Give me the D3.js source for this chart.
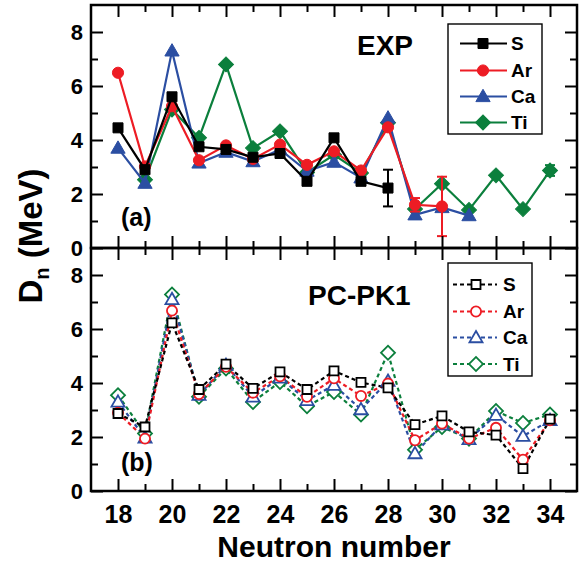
<!DOCTYPE html>
<html><head><meta charset="utf-8">
<script src="https://cdn.jsdelivr.net/npm/d3@7"></script>
<style>
html,body{margin:0;padding:0;background:#fff;}
svg{display:block;font-family:"Liberation Sans",Arial,sans-serif;font-weight:bold;}
</style></head>
<body>
<svg id="chart" width="584" height="567"></svg>
<script>
// ---- data ----
const neutrons = [18,19,20,21,22,23,24,25,26,27,28,29,30,31,32,33,34];
const xTickLabels = [18,20,22,24,26,28,30,32,34];
const yTickLabels = [0,2,4,6,8];
const seriesNames = ["S","Ar","Ca","Ti"];
const seriesColors = ["#000000","#ed1c24","#2b4ea2","#0b7f3c"];

// EXP panel (a)
const expS_N  = [18,19,20,21,22,23,24,25,26,27,28];
const expS    = [4.45,2.9,5.6,3.75,3.65,3.36,3.5,2.47,4.08,2.47,2.22];
const expAr_N = [18,19,20,21,22,23,24,25,26,27,28,29,30];
const expAr   = [6.49,3.02,5.25,3.25,3.8,3.3,3.83,3.08,3.58,2.87,4.47,1.6,1.54];
const expCa_N = [18,19,20,21,22,23,24,25,26,27,28,29,30,31];
const expCa   = [3.7,2.4,7.3,3.15,3.55,3.2,3.65,2.85,3.18,2.6,4.82,1.23,1.5,1.2];
const expTi_N = [19,20,21,22,23,24,25,26,27,28,29,30,31,32,33,34];
const expTi   = [2.53,5.13,4.08,6.8,3.7,4.32,2.8,3.45,2.78,4.64,1.44,2.38,1.41,2.69,1.44,2.87];
// error bars: [series, N, value, error]
const expErrors = [["S",28,2.22,0.68],["Ar",29,1.6,0.25],["Ar",30,1.54,1.1],["Ti",34,2.87,0.2]];

// PC-PK1 panel (b)
const pcS  = [2.87,2.37,6.23,3.76,4.7,3.8,4.41,3.76,4.45,4.02,3.82,2.46,2.78,2.19,2.07,0.83,2.66];
const pcAr = [2.9,1.94,6.68,3.59,4.6,3.64,4.25,3.49,4.17,3.52,3.98,1.88,2.5,1.94,2.34,1.16,2.62];
const pcCa = [3.3,1.97,7.1,3.55,4.66,3.49,4.19,3.36,3.92,3.02,4.07,1.39,2.46,1.91,2.81,2.03,2.62];
const pcTi = [3.55,2.13,7.28,3.49,4.54,3.3,4.04,3.14,3.67,2.83,5.12,1.53,2.37,1.94,2.96,2.52,2.83];

// ---- layout ----
const svg = d3.select("#chart");
const L = 91, R = 577;
const x = d3.scaleLinear().domain([17,35]).range([L,R]);
const yA = d3.scaleLinear().domain([0,9]).range([248,5]);
const yB = d3.scaleLinear().domain([0,9]).range([491,248]);

const xMajor = d3.range(18,35,2), xMinor = d3.range(19,35,2);
const yMajor = [0,2,4,6,8], yMinor = [1,3,5,7];

function symPath(kind, filled){
  if(kind==="S") return d3.symbol(d3.symbolSquare, filled?100:81)();
  if(kind==="Ar") return d3.symbol(d3.symbolCircle, filled?98:80)();
  if(kind==="Ca") return d3.symbol(d3.symbolTriangle, filled?88:74)();
  return d3.symbol(d3.symbolSquare, filled?112:98)();
}
function symTransform(kind, px, py){
  return `translate(${px},${py})` + (kind==="Ti" ? " rotate(45)" : "") + (kind==="Ca" ? " translate(0,1)" : "");
}

function axes(y, showX){
  const g = svg.append("g");
  const ax = (gen, tr) => {
    const a = g.append("g").attr("transform", tr).call(gen);
    a.select(".domain").remove();
    a.selectAll(".tick line").attr("stroke","#000").attr("stroke-width",2);
    a.selectAll("text").remove();
    return a;
  };
  const top = y.range()[1], bot = y.range()[0];
  ax(d3.axisBottom(x).tickValues(xMajor).tickSize(-12), `translate(0,${bot})`);
  ax(d3.axisBottom(x).tickValues(xMinor).tickSize(-7), `translate(0,${bot})`);
  ax(d3.axisTop(x).tickValues(xMajor).tickSize(-12), `translate(0,${top})`);
  ax(d3.axisTop(x).tickValues(xMinor).tickSize(-7), `translate(0,${top})`);
  ax(d3.axisLeft(y).tickValues(yMajor).tickSize(-12), `translate(${L},0)`);
  ax(d3.axisLeft(y).tickValues(yMinor).tickSize(-7), `translate(${L},0)`);
  ax(d3.axisRight(y).tickValues(yMajor).tickSize(-12), `translate(${R},0)`);
  ax(d3.axisRight(y).tickValues(yMinor).tickSize(-7), `translate(${R},0)`);
  // y tick labels
  const yl = g.append("g").attr("transform",`translate(${L},0)`)
    .call(d3.axisLeft(y).tickValues(yTickLabels).tickSize(0).tickPadding(8));
  yl.select(".domain").remove();
  yl.selectAll("text").attr("font-size",22).attr("font-weight","bold")
    .attr("font-family",'"Liberation Sans",Arial,sans-serif').attr("fill","#000");
  if(showX){
    const xl = g.append("g").attr("transform",`translate(0,${bot})`)
      .call(d3.axisBottom(x).tickValues(xTickLabels).tickSize(0).tickPadding(14));
    xl.select(".domain").remove();
    xl.selectAll("text").attr("font-size",25).attr("font-weight","bold")
      .attr("font-family",'"Liberation Sans",Arial,sans-serif').attr("fill","#000");
  }
  svg.append("rect").attr("x",L).attr("y",top).attr("width",R-L).attr("height",bot-top)
    .attr("fill","none").attr("stroke","#000").attr("stroke-width",2.5);
}

// ---- panel (a) EXP ----
const expSets = {
  S:{n:expS_N, v:expS}, Ar:{n:expAr_N, v:expAr}, Ca:{n:expCa_N, v:expCa}, Ti:{n:expTi_N, v:expTi}
};
const drawOrder = ["Ti","Ca","Ar","S"];
const colorOf = k => seriesColors[seriesNames.indexOf(k)];

const gA = svg.append("g");
drawOrder.forEach(k => {
  const d = expSets[k].n.map((n,i)=>[n, expSets[k].v[i]]);
  const c = colorOf(k);
  gA.append("path").datum(d).attr("fill","none").attr("stroke",c).attr("stroke-width",2.2)
    .attr("d", d3.line().x(p=>x(p[0])).y(p=>yA(p[1])));
  expErrors.filter(e=>e[0]===k).forEach(e=>{
    const px = x(e[1]), y1 = yA(e[2]+e[3]), y2 = yA(e[2]-e[3]);
    gA.append("line").attr("x1",px).attr("x2",px).attr("y1",y1).attr("y2",y2).attr("stroke",c).attr("stroke-width",2);
    [y1,y2].forEach(yy=>gA.append("line").attr("x1",px-5).attr("x2",px+5).attr("y1",yy).attr("y2",yy).attr("stroke",c).attr("stroke-width",2));
  });
  gA.selectAll(null).data(d).enter().append("path")
    .attr("d", symPath(k,true)).attr("transform", p=>symTransform(k, x(p[0]), yA(p[1])))
    .attr("fill",c).attr("stroke",c).attr("stroke-width",1);
});

// ---- panel (b) PC-PK1 ----
const pcSets = {S:pcS, Ar:pcAr, Ca:pcCa, Ti:pcTi};
const gB = svg.append("g");
drawOrder.forEach(k => {
  const d = neutrons.map((n,i)=>[n, pcSets[k][i]]);
  const c = colorOf(k);
  gB.append("path").datum(d).attr("fill","none").attr("stroke",c).attr("stroke-width",2.2)
    .attr("stroke-dasharray","4,3")
    .attr("d", d3.line().x(p=>x(p[0])).y(p=>yB(p[1])));
});
drawOrder.forEach(k => {
  const d = neutrons.map((n,i)=>[n, pcSets[k][i]]);
  const c = colorOf(k);
  gB.selectAll(null).data(d).enter().append("path")
    .attr("d", symPath(k,false)).attr("transform", p=>symTransform(k, x(p[0]), yB(p[1])))
    .attr("fill","#fff").attr("stroke",c).attr("stroke-width",1.8);
});

axes(yA, false);
axes(yB, true);

// ---- legends ----
function legend(bx, by, bw, bh, rowY, lx1, lx2, mx, tx, filled){
  svg.append("rect").attr("x",bx).attr("y",by).attr("width",bw).attr("height",bh)
    .attr("fill","#fff").attr("stroke","#000").attr("stroke-width",1.4);
  seriesNames.forEach((k,i)=>{
    const c = seriesColors[i], yy = rowY[i];
    const ln = svg.append("line").attr("x1",lx1).attr("x2",lx2).attr("y1",yy).attr("y2",yy)
      .attr("stroke",c).attr("stroke-width",2.2);
    if(!filled) ln.attr("stroke-dasharray","4,3");
    svg.append("path").attr("d",symPath(k,filled)).attr("transform",symTransform(k,mx,yy))
      .attr("fill",filled?c:"#fff").attr("stroke",c).attr("stroke-width",filled?1:1.8);
    svg.append("text").attr("x",tx).attr("y",yy).attr("dy","0.36em")
      .attr("font-size",19).attr("fill","#000").text(k);
  });
}
legend(448,24,94,110,[43.5,70.5,96.5,122.5],460,507,483,511,true);
legend(448,263,84,113,[284.5,311.5,337.5,364],453,497,476,503,false);

// ---- panel titles ----
svg.append("text").attr("x",357).attr("y",55).attr("font-size",28).text("EXP");
svg.append("text").attr("x",308).attr("y",305).attr("font-size",28).text("PC-PK1");
svg.append("text").attr("x",121).attr("y",226).attr("font-size",25).text("(a)");
svg.append("text").attr("x",121).attr("y",471).attr("font-size",25).text("(b)");

// ---- axis titles ----
svg.append("text").attr("x",(L+R)/2).attr("y",557).attr("text-anchor","middle")
  .attr("font-size",30).text("Neutron number");
const yt = svg.append("text").attr("transform","translate(42,236) rotate(-90)")
  .attr("text-anchor","middle").attr("font-size",33);
yt.append("tspan").text("D");
yt.append("tspan").attr("font-size",20).attr("dy",7).text("n");
yt.append("tspan").attr("dy",-7).text(" (MeV)");
</script>
</body></html>
